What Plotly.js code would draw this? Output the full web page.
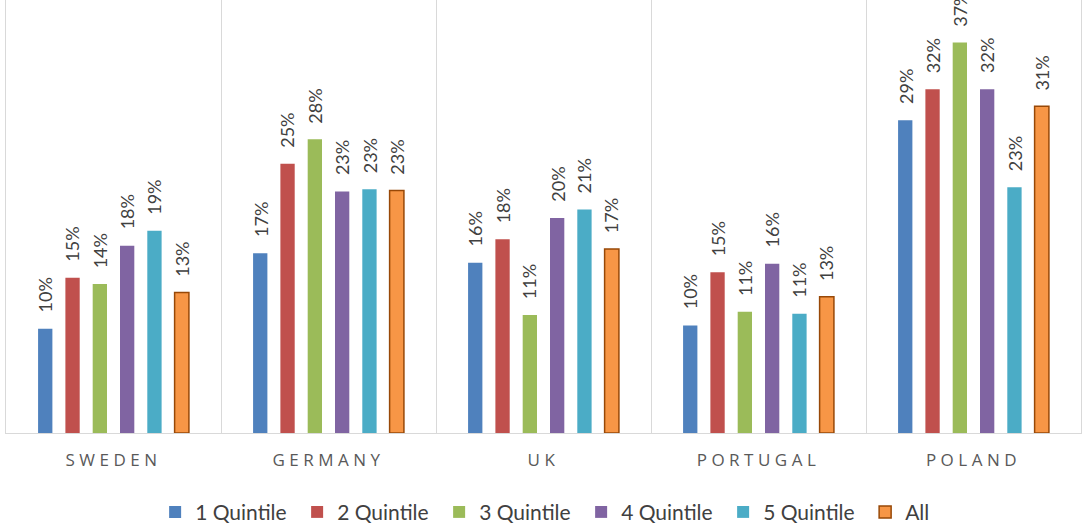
<!DOCTYPE html>
<html>
<head>
<meta charset="utf-8">
<script src="https://cdn.plot.ly/plotly-3.0.1.min.js"></script>
<style>
  html, body { margin: 0; padding: 0; background: #fff; }
  #chart { width: 1086px; height: 523px; }
  .xtick text { letter-spacing: 4.5px; }
</style>
</head>
<body>
<div id="chart"></div>
<script>
// ---- data (percent) ----
const countries = ["SWEDEN", "GERMANY", "UK", "PORTUGAL", "POLAND"];
const seriesNames = ["1 Quintile", "2 Quintile", "3 Quintile", "4 Quintile", "5 Quintile", "All"];
const q1 = [9.8, 16.9, 16.0, 10.1, 29.4];
const q2 = [14.6, 25.3, 18.2, 15.1, 32.3];
const q3 = [14.0, 27.6, 11.1, 11.4, 36.7];
const q4 = [17.6, 22.7, 20.2, 15.9, 32.3];
const q5 = [19.0, 22.9, 21.0, 11.2, 23.1];
const allQ = [13.2, 22.8, 17.3, 12.8, 30.7];
const seriesValues = [q1, q2, q3, q4, q5, allQ];

// ---- styles ----
const colors = ["#4F81BD", "#C0504D", "#9BBB59", "#8064A2", "#4BACC6", "#F79646"];
const W = 1086, H = 523;
const margin = { l: 6, r: 5, t: 0, b: 89.5, autoexpand: false };
const bargap = 0.238, bargroupgap = 0.476;
const yMax = 40.69;
const labelFont = "Lato, 'Open Sans', sans-serif";

const traces = seriesValues.map((vals, i) => ({
  type: "bar",
  name: seriesNames[i],
  x: countries,
  y: vals,
  marker: {
    color: colors[i],
    line: i === 5 ? { color: "#984807", width: 1.5 } : { width: 0 }
  },
  hoverinfo: "skip"
}));

// data labels as rotated annotations above each bar
const plotW = W - margin.l - margin.r;
const slot = plotW / countries.length * (1 - bargap) / seriesValues.length;
const annotations = [];
seriesValues.forEach((vals, i) => {
  vals.forEach((v, j) => {
    annotations.push({
      x: countries[j], y: v, xref: "x", yref: "y",
      text: Math.round(v) + "%",
      showarrow: false, textangle: -90,
      xanchor: "center", yanchor: "bottom",
      xshift: (i - (seriesValues.length - 1) / 2) * slot,
      yshift: 14,
      font: { family: labelFont, size: 18, color: "#404040" }
    });
  });
});

const layout = {
  width: W, height: H,
  margin: margin,
  paper_bgcolor: "#ffffff", plot_bgcolor: "#ffffff",
  barmode: "group", bargap: bargap, bargroupgap: bargroupgap,
  showlegend: true,
  legend: {
    orientation: "h", x: 0.535, xanchor: "center", y: -0.183, yanchor: "middle",
    font: { family: labelFont, size: 21, color: "#404040" },
    entrywidth: 97, traceorder: "normal"
  },
  xaxis: {
    type: "category",
    tickson: "boundaries",
    showgrid: true, gridcolor: "#d9d9d9", gridwidth: 1,
    showline: true, linecolor: "#d9d9d9", linewidth: 1,
    ticks: "", ticklabelstandoff: 12,
    tickfont: { family: "'Open Sans', sans-serif", size: 17, color: "#595959" },
    range: [-0.5, 4.5], fixedrange: true, zeroline: false
  },
  yaxis: {
    range: [0, yMax], showgrid: false, zeroline: false,
    showline: true, mirror: true, linecolor: "#d9d9d9", linewidth: 1,
    showticklabels: false, ticks: "", fixedrange: true
  },
  annotations: annotations
};

Plotly.newPlot("chart", traces, layout, { displayModeBar: false, staticPlot: true });
</script>
</body>
</html>
